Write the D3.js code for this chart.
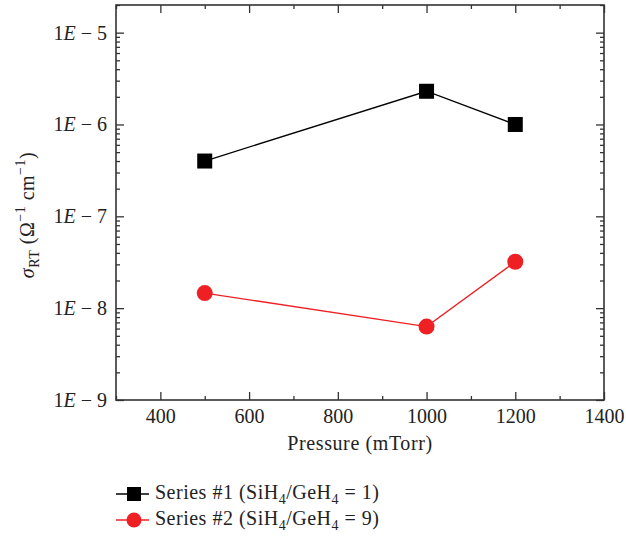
<!DOCTYPE html>
<html><head><meta charset="utf-8">
<script src="https://cdn.jsdelivr.net/npm/d3@7/dist/d3.min.js"></script>
<style>body{margin:0;background:#fff}svg{display:block}text{font-family:"Liberation Serif","Times New Roman",serif;fill:#222}</style>
</head><body>
<script>
const pressure = [500, 1000, 1200];
const series1 = [4.0e-7, 2.3e-6, 1.0e-6];
const series2 = [1.46e-8, 6.3e-9, 3.2e-8];
const xTicks = [400, 600, 800, 1000, 1200, 1400];
const yTickExps = [-5, -6, -7, -8, -9];
const seriesNames = ["Series #1", "Series #2"];
const seriesRatios = ["1", "9"];

const W = 626, H = 537;
const L = 116, R = 604, T = 5, B = 400;
const svg = d3.select("body").append("svg").attr("width", W).attr("height", H);

const x = d3.scaleLinear().domain([300, 1400]).range([L, R]);
const y = d3.scaleLog().domain([1e-9, 2e-5]).range([B, T]);

const axisCol = "#333";
const majX = xTicks;
const minX = d3.range(300, 1401, 100).filter(v => !majX.includes(v));
const majY = yTickExps.map(e => Math.pow(10, e));
const minY = [];
for (let e = -9; e <= -5; e++) for (let m = 2; m <= 9; m++) { const v = m * Math.pow(10, e); if (v <= 2e-5 * 1.0001) minY.push(v); }

function addAxis(axisFn, scale, vals, size, tx, ty, labels) {
  const a = axisFn(scale).tickValues(vals).tickSizeInner(-size).tickSizeOuter(0).tickPadding(10);
  a.tickFormat(labels ? d3.format("d") : "");
  const g = svg.append("g").attr("transform", `translate(${tx},${ty})`).call(a);
  g.select(".domain").remove();
  g.selectAll("line").attr("stroke", axisCol).attr("stroke-width", 1.3);
  return g;
}
// bottom
const gx = addAxis(d3.axisBottom, x, majX, 8, 0, B, true);
gx.selectAll("text").attr("font-size", 20).attr("fill", "#222").attr("dy", "0.9em").attr("y", 5);
addAxis(d3.axisBottom, x, minX, 4, 0, B, false);
// top
addAxis(d3.axisTop, x, majX, 8, 0, T, false);
addAxis(d3.axisTop, x, minX, 4, 0, T, false);
// left
const gy = addAxis(d3.axisLeft, y, majY, 8, L, 0, true);
gy.selectAll("text").attr("font-size", 20).attr("fill", "#222").attr("x", -9).each(function(d) {
  const t = d3.select(this); t.text("");
  const e = Math.round(Math.log10(d));
  t.append("tspan").text("1");
  t.append("tspan").attr("font-style", "italic").text("E");
  t.append("tspan").text(" \u2212 " + Math.abs(e));
});
addAxis(d3.axisLeft, y, minY, 4, L, 0, false);
// right
addAxis(d3.axisRight, y, majY, 8, R, 0, false);
addAxis(d3.axisRight, y, minY, 4, R, 0, false);

// frame
svg.append("rect").attr("x", L).attr("y", T).attr("width", R - L).attr("height", B - T)
  .attr("fill", "none").attr("stroke", axisCol).attr("stroke-width", 1.6);

// axis titles
svg.append("text").attr("x", (L + R) / 2).attr("y", 450).attr("text-anchor", "middle")
  .attr("font-size", 20).attr("letter-spacing", 0.6).text("Pressure (mTorr)");

const yl = svg.append("text").attr("transform", "translate(34,215) rotate(-90)")
  .attr("text-anchor", "middle").attr("font-size", 20).attr("letter-spacing", 0.5);
yl.append("tspan").attr("font-style", "italic").text("\u03c3");
yl.append("tspan").attr("font-size", 14).attr("dy", 5).text("RT");
yl.append("tspan").attr("dy", -5).text(" (\u03a9");
yl.append("tspan").attr("font-size", 14).attr("dy", -9).text("\u22121");
yl.append("tspan").attr("dy", 9).text(" cm");
yl.append("tspan").attr("font-size", 14).attr("dy", -9).text("\u22121");
yl.append("tspan").attr("dy", 9).text(")");

// data
const colors = ["#000000", "#ee2024"];
const data = [series1, series2];
const line = d3.line().x((d, i) => x(pressure[i])).y(d => y(d));
data.forEach((s, k) => {
  svg.append("path").datum(s).attr("d", line).attr("fill", "none")
    .attr("stroke", colors[k]).attr("stroke-width", 1.3);
});
const sq = 15;
svg.selectAll(".sq").data(series1).join("rect")
  .attr("x", (d, i) => x(pressure[i]) - sq / 2).attr("y", d => y(d) - sq / 2)
  .attr("width", sq).attr("height", sq).attr("fill", colors[0]);
svg.selectAll(".ci").data(series2).join("circle")
  .attr("cx", (d, i) => x(pressure[i])).attr("cy", d => y(d)).attr("r", 8).attr("fill", colors[1]);

// legend
const ly = [494, 520];
seriesNames.forEach((n, k) => {
  const g = svg.append("g");
  g.append("line").attr("x1", 116).attr("x2", 149).attr("y1", ly[k]).attr("y2", ly[k])
    .attr("stroke", colors[k]).attr("stroke-width", 1.3);
  if (k === 0) g.append("rect").attr("x", 127).attr("y", ly[k] - 7).attr("width", 14).attr("height", 14).attr("fill", colors[k]);
  else g.append("circle").attr("cx", 134).attr("cy", ly[k]).attr("r", 7.5).attr("fill", colors[k]);
  const t = g.append("text").attr("x", 155).attr("y", ly[k] + 5).attr("font-size", 20).attr("letter-spacing", 0.5);
  t.append("tspan").text(n + " (SiH");
  t.append("tspan").attr("font-size", 14).attr("dy", 5).text("4");
  t.append("tspan").attr("dy", -5).text("/GeH");
  t.append("tspan").attr("font-size", 14).attr("dy", 5).text("4");
  t.append("tspan").attr("dy", -5).text(" = " + seriesRatios[k] + ")");
});
</script>
</body></html>
